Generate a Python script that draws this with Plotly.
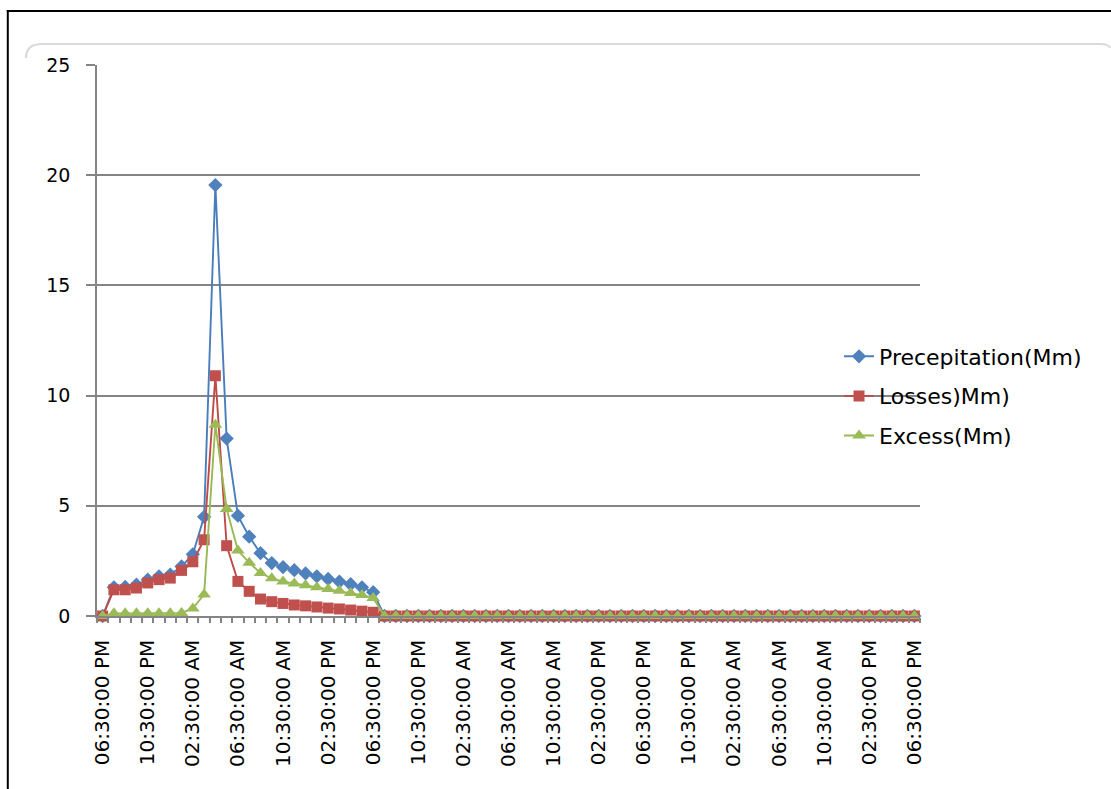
import plotly.graph_objects as go

# Hourly rainfall breakdown, 73 hourly steps starting at 06:30:00 PM
precipitation_mm = [
    0.0, 1.30, 1.32, 1.42, 1.65, 1.80, 1.88, 2.25, 2.80, 4.50,
    19.55, 8.05, 4.55, 3.60, 2.85, 2.40, 2.22, 2.08, 1.93, 1.80,
    1.68, 1.56, 1.44, 1.30, 1.08, 0.0, 0.0, 0.0, 0.0, 0.0,
    0.0, 0.0, 0.0, 0.0, 0.0, 0.0, 0.0, 0.0, 0.0, 0.0,
    0.0, 0.0, 0.0, 0.0, 0.0, 0.0, 0.0, 0.0, 0.0, 0.0,
    0.0, 0.0, 0.0, 0.0, 0.0, 0.0, 0.0, 0.0, 0.0, 0.0,
    0.0, 0.0, 0.0, 0.0, 0.0, 0.0, 0.0, 0.0, 0.0, 0.0,
    0.0, 0.0, 0.0,
]
losses_mm = [
    0.0, 1.19, 1.19, 1.27, 1.50, 1.65, 1.72, 2.07, 2.46, 3.46,
    10.90, 3.19, 1.57, 1.12, 0.77, 0.65, 0.57, 0.50, 0.46, 0.41,
    0.36, 0.32, 0.27, 0.22, 0.17, 0.0, 0.0, 0.0, 0.0, 0.0,
    0.0, 0.0, 0.0, 0.0, 0.0, 0.0, 0.0, 0.0, 0.0, 0.0,
    0.0, 0.0, 0.0, 0.0, 0.0, 0.0, 0.0, 0.0, 0.0, 0.0,
    0.0, 0.0, 0.0, 0.0, 0.0, 0.0, 0.0, 0.0, 0.0, 0.0,
    0.0, 0.0, 0.0, 0.0, 0.0, 0.0, 0.0, 0.0, 0.0, 0.0,
    0.0, 0.0, 0.0,
]
excess_mm = [
    0.0, 0.12, 0.12, 0.13, 0.13, 0.13, 0.13, 0.14, 0.34, 0.98,
    8.68, 4.86, 2.97, 2.42, 1.95, 1.71, 1.57, 1.48, 1.40, 1.30,
    1.22, 1.14, 1.04, 0.95, 0.82, 0.0, 0.0, 0.0, 0.0, 0.0,
    0.0, 0.0, 0.0, 0.0, 0.0, 0.0, 0.0, 0.0, 0.0, 0.0,
    0.0, 0.0, 0.0, 0.0, 0.0, 0.0, 0.0, 0.0, 0.0, 0.0,
    0.0, 0.0, 0.0, 0.0, 0.0, 0.0, 0.0, 0.0, 0.0, 0.0,
    0.0, 0.0, 0.0, 0.0, 0.0, 0.0, 0.0, 0.0, 0.0, 0.0,
    0.0, 0.0, 0.0,
]

# Labels shown every fourth hour
tick_labels = [
    "06:30:00 PM", "10:30:00 PM", "02:30:00 AM", "06:30:00 AM", "10:30:00 AM",
    "02:30:00 PM", "06:30:00 PM", "10:30:00 PM", "02:30:00 AM", "06:30:00 AM",
    "10:30:00 AM", "02:30:00 PM", "06:30:00 PM", "10:30:00 PM", "02:30:00 AM",
    "06:30:00 AM", "10:30:00 AM", "02:30:00 PM", "06:30:00 PM",
]
y_ticks = [0, 5, 10, 15, 20, 25]

steps = list(range(len(precipitation_mm)))
tick_positions = steps[::4]

W, H = 1111, 789
ML, MR, MT, MB = 97, 191, 65, 173
FONT = "DejaVu Sans"
GRID = "#858585"


def px_x(px):
    return (px - ML) / (W - ML - MR)


def px_y(py):
    return (H - MB - py) / (H - MT - MB)


series = [
    ("Precepitation(Mm)", precipitation_mm, "#4A7EBB", "#4F81BD", "diamond", 11),
    ("Losses)Mm)", losses_mm, "#BE4B48", "#C0504D", "square", 11),
    ("Excess(Mm)", excess_mm, "#98B954", "#9BBB59", "triangle-up", 12),
]

fig = go.Figure()
for name, values, line_col, mark_col, symbol, size in series:
    fig.add_trace(go.Scatter(
        x=steps, y=values, name=name, mode="lines+markers",
        legendgroup=name,
        line=dict(color=line_col, width=1.9),
        marker=dict(symbol=symbol, size=size, color=mark_col,
                    line=dict(width=0)),
        cliponaxis=False,
    ))

# outer frame (top and left edges) and the rounded chart-area outline
shapes = [
    dict(type="line", xref="paper", yref="paper",
         x0=px_x(6.8), x1=px_x(1111), y0=px_y(11), y1=px_y(11),
         line=dict(color="black", width=2)),
    dict(type="line", xref="paper", yref="paper",
         x0=px_x(7.8), x1=px_x(7.8), y0=px_y(10), y1=px_y(789),
         line=dict(color="black", width=2)),
    dict(type="path", xref="paper", yref="paper",
         path=(f"M {px_x(26)},{px_y(58)} Q {px_x(26)},{px_y(44)} {px_x(42)},{px_y(44)} "
               f"L {px_x(1100)},{px_y(44)} Q {px_x(1109)},{px_y(44)} {px_x(1110)},{px_y(48)}"),
         line=dict(color="#dadada", width=2.2)),
]

fig.update_layout(
    width=W, height=H,
    margin=dict(l=ML, r=MR, t=MT, b=MB, pad=0),
    paper_bgcolor="white", plot_bgcolor="white",
    font=dict(family=FONT, color="black"),
    showlegend=True,
    legend=dict(
        x=px_x(839), y=px_y(396), xanchor="left", yanchor="middle",
        bgcolor="rgba(0,0,0,0)", font=dict(family=FONT, size=22, color="black"),
        traceorder="grouped", tracegroupgap=8, itemwidth=30,
    ),
    shapes=shapes,
    xaxis=dict(
        range=[-0.5, len(steps) - 0.5],
        tickmode="array", tickvals=tick_positions, ticktext=tick_labels,
        tickangle=-90, ticks="", ticklabelstandoff=14,
        tickfont=dict(family=FONT, size=20, color="black"),
        showgrid=False, zeroline=False,
        showline=True, linecolor=GRID, linewidth=1.5,
        minor=dict(tickmode="linear", tick0=-0.5, dtick=1, ticks="outside",
                   ticklen=5, tickwidth=1.5, tickcolor=GRID, showgrid=False),
    ),
    yaxis=dict(
        range=[0, 25], tickmode="array", tickvals=y_ticks,
        ticks="outside", ticklen=9, tickwidth=1.5, tickcolor=GRID,
        ticklabelstandoff=12,
        tickfont=dict(family=FONT, size=19, color="black"),
        showgrid=True, gridcolor=GRID, gridwidth=1.5,
        zeroline=False, showline=True, linecolor=GRID, linewidth=1.5,
    ),
)

fig.write_html("out.html")
